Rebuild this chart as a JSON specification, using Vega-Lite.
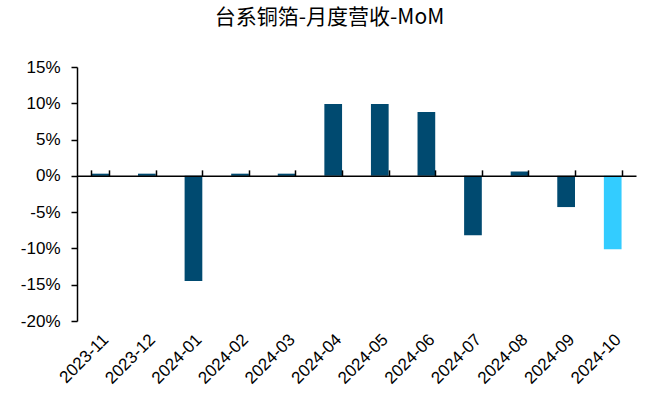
{
  "$schema": "https://vega.github.io/schema/vega-lite/v6.json",
  "width": 559,
  "height": 254,
  "autosize": "none",
  "padding": {"left": 77, "top": 67, "right": 14, "bottom": 80},
  "background": "white",
  "title": {"text": "台系铜箔-月度营收-MoM", "font": "Noto Sans CJK SC", "fontSize": 21, "fontWeight": "normal", "color": "black", "offset": 30, "dx": -27},
  "data": {"values": [
    {"month": "2023-11", "mom": 0.003, "latest": "no"},
    {"month": "2023-12", "mom": 0.003, "latest": "no"},
    {"month": "2024-01", "mom": -0.145, "latest": "no"},
    {"month": "2024-02", "mom": 0.003, "latest": "no"},
    {"month": "2024-03", "mom": 0.003, "latest": "no"},
    {"month": "2024-04", "mom": 0.099, "latest": "no"},
    {"month": "2024-05", "mom": 0.099, "latest": "no"},
    {"month": "2024-06", "mom": 0.088, "latest": "no"},
    {"month": "2024-07", "mom": -0.082, "latest": "no"},
    {"month": "2024-08", "mom": 0.006, "latest": "no"},
    {"month": "2024-09", "mom": -0.043, "latest": "no"},
    {"month": "2024-10", "mom": -0.101, "latest": "yes"}
  ]},
  "config": {"view": {"stroke": null},
    "locale": {"number": {"decimal": ".", "thousands": ",", "grouping": [3], "currency": ["$", ""], "minus": "-"}},
    "axis": {"grid": false, "domainColor": "black", "labelColor": "black", "labelFont": "Liberation Sans", "labelFontSize": 17, "domainWidth": 1.5}},
  "resolve": {"axis": {"x": "independent"}},
  "layer": [
    {
      "mark": {"type": "bar"},
      "encoding": {
        "x": {"field": "month", "type": "ordinal", "sort": null, "scale": {"paddingInner": 0.62, "paddingOuter": 0.31},
              "axis": {"title": null, "labelAngle": -45, "domain": false, "ticks": false, "labelPadding": 10}},
        "y": {"field": "mom", "type": "quantitative", "scale": {"domain": [-0.2, 0.15], "nice": false},
              "axis": {"title": null, "ticks": true, "tickSize": 6, "tickColor": "black", "tickOpacity": 1, "tickWidth": 1.5, "tickCap": "butt", "tickCount": 7, "format": ".0%", "labelPadding": 11, "zindex": 1}},
        "color": {"field": "latest", "type": "nominal", "scale": {"domain": ["no", "yes"], "range": ["#004A70", "#33CCFF"]}, "legend": null}
      }
    },
    {
      "mark": {"type": "bar", "opacity": 0},
      "encoding": {
        "x": {"field": "month", "type": "ordinal", "sort": null,
              "axis": {"title": null, "orient": "top", "offset": -108.857, "labels": false, "tickBand": "extent", "tickSize": 6, "tickColor": "black", "tickWidth": 1.5, "zindex": 1}},
        "y": {"field": "mom", "type": "quantitative"}
      }
    }
  ]
}
